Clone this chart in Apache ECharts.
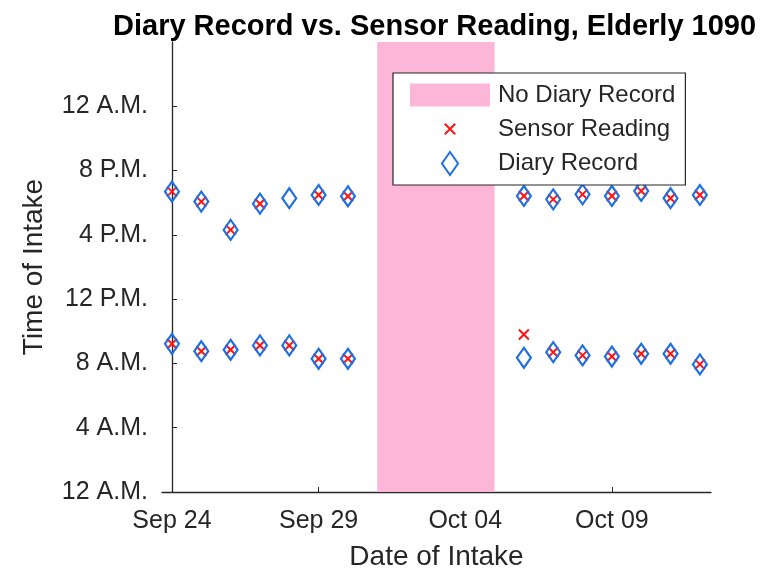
<!DOCTYPE html>
<html>
<head>
<meta charset="utf-8">
<script src="https://cdn.jsdelivr.net/npm/echarts@6/dist/echarts.min.js"></script>
<style>
  html, body { margin: 0; padding: 0; background: #fff; }
  #chart { width: 767px; height: 575px; }
</style>
</head>
<body>
<div id="chart"></div>
<script>
// days counted from Sep 24
const days = [0, 1, 2, 3, 4, 5, 6, 12, 13, 14, 15, 16, 17, 18]
const dateTicks = [0, 5, 10, 15]
const dateLabels = ['Sep 24', 'Sep 29', 'Oct 04', 'Oct 09']

// hours of the day
const hourTicks = [0, 4, 8, 12, 16, 20, 24]
const hourLabels = ['12 A.M.', '4 A.M.', '8 A.M.', '12 P.M.', '4 P.M.', '8 P.M.', '12 A.M.']

const diaryMorning  = [9.22, 8.76, 8.85, 9.12, 9.12, 8.29, 8.29, 8.35, 8.70, 8.50, 8.43, 8.60, 8.60, 7.94]
const diaryEvening  = [18.69, 18.07, 16.31, 17.94, 18.28, 18.48, 18.40, 18.42, 18.21, 18.52, 18.42, 18.73, 18.28, 18.48]
const sensorMorning = [9.22, 8.76, 8.85, 9.12, 9.12, 8.29, 8.29, 9.80, 8.70, 8.50, 8.43, 8.60, 8.60, 7.94]
const sensorEvening = [18.69, 18.07, 16.31, 17.94, null, 18.48, 18.40, 18.42, 18.21, 18.52, 18.42, 18.73, 18.28, 18.48]

// no diary between Oct 01 and Oct 05
const noDiary = [7, 11]

const font = 'Liberation Sans, Arial, sans-serif'
const tx = '#262626'
const pink = '#feb6d8'
const blue = '#1f6fe3'
const red = '#ff1414'

const crossPath = 'path://M0,0L10,10M10,0L0,10M-6,-6M16,16'
const diamondPath = 'path://M7,0L14,10L7,20L0,10Z'

function pairs(ys) {
  return days.map((d, i) => [d, ys[i]]).filter(p => p[1] != null)
}

const chart = echarts.init(document.getElementById('chart'))
chart.setOption({
  animation: false,
  title: {
    text: 'Diary Record vs. Sensor Reading, Elderly 1090',
    left: 108, top: 7,
    textStyle: { fontFamily: font, fontSize: 29, fontWeight: 'bold', color: '#000' },
  },
  grid: { left: 162, right: 56, top: 42, bottom: 83, outerBoundsMode: 'none', containLabel: false },
  legend: {
    orient: 'vertical', left: 393, top: 73,
    padding: [10, 10, 9, 17],
    backgroundColor: '#fff', borderColor: tx, borderWidth: 1.2,
    itemWidth: 80, itemHeight: 23, itemGap: 9.5,
    selectedMode: false,
    textStyle: { fontFamily: font, fontSize: 24, color: tx, padding: [0, 0, 0, 3] },
    data: [
      { name: 'No Diary Record', icon: 'rect' },
      { name: 'Sensor Reading', icon: crossPath },
      { name: 'Diary Record', icon: diamondPath },
    ],
  },
  xAxis: {
    type: 'value', min: -0.34, max: 18.38,
    name: 'Date of Intake', nameLocation: 'middle', nameGap: 51,
    nameTextStyle: { fontFamily: font, fontSize: 28, color: tx },
    axisLine: { lineStyle: { color: tx, width: 1.3 } },
    axisTick: { inside: true, length: 5, customValues: dateTicks, lineStyle: { color: tx } },
    axisLabel: {
      customValues: dateTicks, margin: 17,
      fontFamily: font, fontSize: 25, color: tx,
      formatter: v => dateLabels[dateTicks.indexOf(v)],
    },
    splitLine: { show: false },
  },
  yAxis: {
    type: 'value', min: 0, max: 28,
    name: 'Time of Intake', nameLocation: 'middle', nameGap: 114,
    nameTextStyle: { fontFamily: font, fontSize: 28, color: tx },
    axisLine: { show: true, lineStyle: { color: tx, width: 1.3 } },
    axisTick: { show: true, inside: true, length: 5, customValues: hourTicks, lineStyle: { color: tx } },
    axisLabel: {
      customValues: hourTicks, margin: 14,
      fontFamily: font, fontSize: 25, color: tx,
      formatter: v => hourLabels[hourTicks.indexOf(v)],
    },
    splitLine: { show: false },
  },
  series: [
    {
      name: 'No Diary Record', type: 'scatter', data: [],
      itemStyle: { color: pink, opacity: 1 },
      markArea: {
        silent: true,
        itemStyle: { color: pink, opacity: 1 },
        data: [[{ xAxis: noDiary[0] }, { xAxis: noDiary[1] }]],
      },
    },
    {
      name: 'Sensor Reading', type: 'scatter',
      data: pairs(sensorMorning).concat(pairs(sensorEvening)),
      symbol: crossPath, symbolSize: 22,
      itemStyle: { color: 'transparent', borderColor: red, borderWidth: 2, opacity: 1 },
    },
    {
      name: 'Diary Record', type: 'scatter',
      data: pairs(diaryMorning).concat(pairs(diaryEvening)),
      symbol: diamondPath, symbolSize: [14, 20],
      itemStyle: { color: 'transparent', borderColor: blue, borderWidth: 2.2, opacity: 1 },
    },
  ],
})
</script>
</body>
</html>
